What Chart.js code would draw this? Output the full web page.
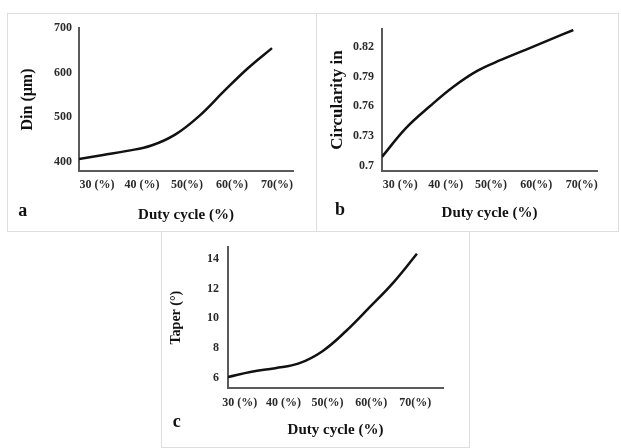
<!DOCTYPE html>
<html><head><meta charset="utf-8">
<script src="https://cdn.jsdelivr.net/npm/chart.js@4.4.1/dist/chart.umd.min.js"></script>
<style>
body{margin:0;background:#fff;width:621px;height:448px;overflow:hidden;position:relative;}
.frame{position:absolute;box-sizing:border-box;border:1px solid #dedede;}
canvas{position:absolute;}
</style></head><body>
<div class="frame" style="left:7px;top:13px;width:310px;height:219px"></div>
<div class="frame" style="left:316px;top:13px;width:303px;height:219px"></div>
<div class="frame" style="left:161px;top:231px;width:309px;height:217px"></div>
<canvas id="ca" width="309" height="218" style="left:7px;top:13px"></canvas>
<canvas id="cb" width="303" height="218" style="left:316px;top:13px"></canvas>
<canvas id="cc" width="308" height="217" style="left:161px;top:231px"></canvas>
<script>
const dutyCycle = [30, 35, 40, 45, 50, 55, 60, 65, 70];
const dinValues = [407, 416, 425, 437, 462, 504, 558, 610, 655];
const circularityValues = [0.709, 0.738, 0.760, 0.780, 0.796, 0.807, 0.817, 0.827, 0.837];
const taperValues = [6.07, 6.42, 6.66, 6.98, 7.8, 9.15, 10.75, 12.4, 14.33];
const xTickValues = [30, 40, 50, 60, 70];
const xTickLabels = ['30 (%)', '40 (%)', '50(%)', '60(%)', '70(%)'];
const dinTicks = [400, 500, 600, 700];
const circularityTicks = [0.7, 0.73, 0.76, 0.79, 0.82];
const taperTicks = [6, 8, 10, 12, 14];

const SERIF = '"Liberation Serif", "Times New Roman", serif';

const letterPlugin = {
  id: 'panelLetter',
  afterDraw(chart, args, opts) {
    const ctx = chart.ctx;
    ctx.save();
    ctx.font = 'bold 18px ' + SERIF;
    ctx.fillStyle = '#111';
    ctx.textAlign = 'center';
    ctx.textBaseline = 'middle';
    ctx.fillText(opts.text, opts.x, opts.y);
    ctx.restore();
  }
};

function panel(id, o) {
  new Chart(document.getElementById(id), {
    type: 'line',
    data: {
      datasets: [{
        data: o.values.map((v, i) => ({x: dutyCycle[i], y: v})),
        xAxisID: 'x', yAxisID: 'y',
        borderColor: '#111', borderWidth: 2.5, pointRadius: 0,
        tension: 0.4, fill: false
      }]
    },
    options: {
      responsive: false, animation: false, events: [],
      layout: {padding: {top: o.padTop, right: o.padRight, left: 0, bottom: 0}},
      plugins: {
        legend: {display: false}, tooltip: {enabled: false},
        panelLetter: {text: o.letter, x: o.letterX, y: o.letterY}
      },
      scales: {
        x: {type: 'linear', axis: 'x', display: false, min: 30, max: o.xMax, weight: 0},
        x2: {
          type: 'linear', axis: 'x', position: 'bottom', weight: 1,
          min: o.lMin, max: o.lMax,
          grid: {display: false, drawTicks: false},
          border: {display: true, color: '#5a5a5a', width: 2},
          afterBuildTicks: s => { s.ticks = xTickValues.map(v => ({value: v})); },
          ticks: {
            padding: o.xTickPad, color: '#2a2a2a', autoSkip: false, maxRotation: 0,
            font: {family: SERIF, size: 12, weight: 'bold'},
            callback: (v, i) => xTickLabels[i]
          },
          title: {
            display: true, text: 'Duty cycle (%)', color: '#111',
            font: {family: SERIF, size: 15, weight: 'bold'},
            padding: {top: 0, bottom: o.xTitlePad}
          },
          afterFit: s => { s.height = o.xHeight; }
        },
        y: {
          type: 'linear', min: o.yMin, max: o.yMax,
          grid: {display: false, drawTicks: false},
          border: {display: true, color: '#5a5a5a', width: 2},
          afterBuildTicks: s => { s.ticks = o.yTicks.map(v => ({value: v})); },
          ticks: {
            padding: o.yTickPad, color: '#2a2a2a',
            font: {family: SERIF, size: 12, weight: 'bold'},
            callback: v => String(v)
          },
          title: {
            display: true, text: o.yTitle, color: '#111',
            font: {family: SERIF, size: o.yTitleSize, weight: 'bold'},
            padding: {top: o.yTitlePad, bottom: 0}
          },
          afterFit: s => { s.width = o.yWidth; }
        }
      }
    },
    plugins: [letterPlugin]
  });
}

panel('ca', {
  values: dinValues, yTicks: dinTicks, yTitle: 'Din (\u03bcm)', letter: 'a',
  padTop: 15, padRight: 23, yWidth: 72, xHeight: 60,
  yMin: 380, yMax: 700, xMax: 74.35, lMin: 26, lMax: 73.56,
  xTickPad: 6.8, xTitlePad: 7, yTickPad: 7, yTitleSize: 16, yTitlePad: 11.4,
  letterX: 15.7, letterY: 198.7
});
panel('cb', {
  values: circularityValues, yTicks: circularityTicks, yTitle: 'Circularity in', letter: 'b',
  padTop: 16, padRight: 22, yWidth: 66, xHeight: 60,
  yMin: 0.6947, yMax: 0.838, xMax: 74.95, lMin: 25.97, lMax: 73.37,
  xTickPad: 7, xTitlePad: 9, yTickPad: 8, yTitleSize: 17, yTitlePad: 11.8,
  letterX: 24, letterY: 197.7
});
panel('cc', {
  values: taperValues, yTicks: taperTicks, yTitle: 'Taper (\u00b0)', letter: 'c',
  padTop: 16, padRight: 26, yWidth: 67, xHeight: 60,
  yMin: 5.33, yMax: 14.77, xMax: 75.52, lMin: 27.33, lMax: 76.33,
  xTickPad: 8, xTitlePad: 9, yTickPad: 9, yTitleSize: 14, yTitlePad: 7.3,
  letterX: 15.7, letterY: 191.7
});
</script>
</body></html>
